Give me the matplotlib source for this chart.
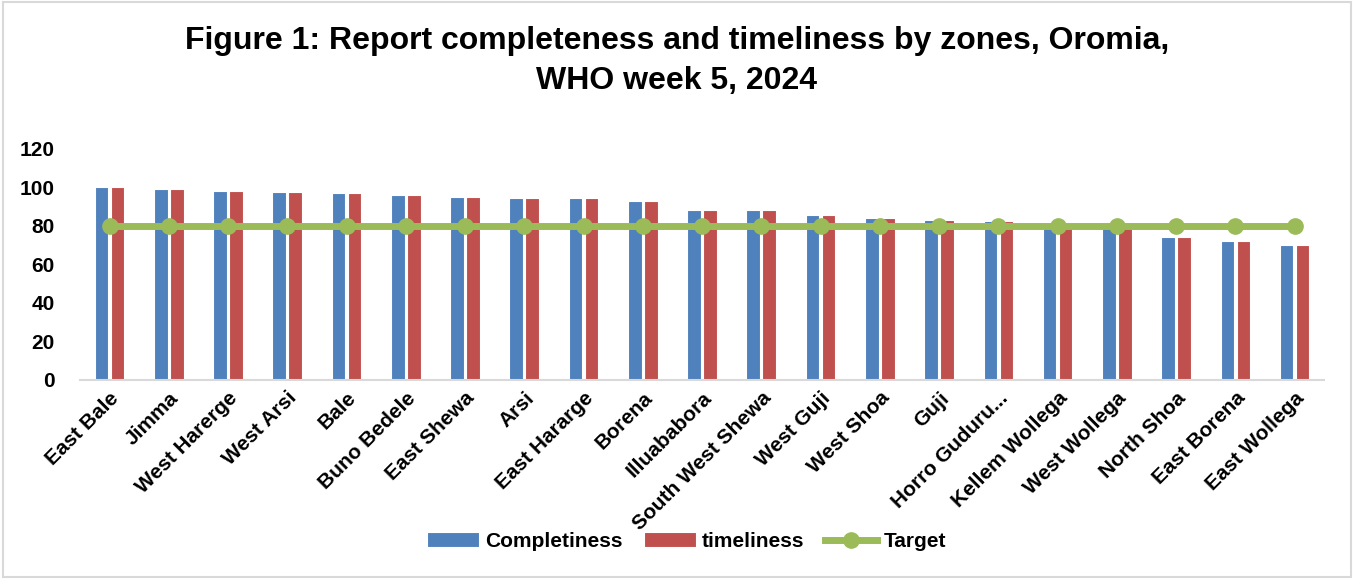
import numpy as np
import matplotlib.pyplot as plt
from matplotlib.patches import Rectangle

plt.rcParams['font.family'] = ['Liberation Sans', 'DejaVu Sans']
plt.rcParams['font.weight'] = 'bold'

zones = ['East Bale', 'Jimma', 'West Harerge', 'West Arsi', 'Bale', 'Buno Bedele',
         'East Shewa', 'Arsi', 'East Hararge', 'Borena', 'Illuababora',
         'South West Shewa', 'West Guji', 'West Shoa', 'Guji', 'Horro Guduru...',
         'Kellem Wollega', 'West Wollega', 'North Shoa', 'East Borena', 'East Wollega']
completeness = [100, 99, 98, 97.7, 97.1, 96.3, 95.1, 94.7, 94.7, 92.8, 88.3,
                88.3, 85.9, 84.0, 83.3, 82.6, 79.5, 79.2, 74.1, 72.4, 70.3]
timeliness = [100, 99, 98, 97.7, 97.1, 96.3, 95.1, 94.7, 94.7, 92.8, 88.3,
              88.3, 85.9, 84.0, 83.3, 82.6, 79.5, 79.2, 74.1, 72.4, 70.3]
target = [80] * len(zones)

blue = '#4F81BD'
red = '#C0504D'
green = '#9BBB59'

fig = plt.figure(figsize=(13.54, 5.79), dpi=100)
fig.patches.append(Rectangle((0.002, 0.003), 0.996, 0.994, transform=fig.transFigure,
                             fill=False, edgecolor='#D9D9D9', linewidth=1.5))
ax = fig.add_axes([0.059, 0.3437, 0.919, 0.399])

x = np.arange(len(zones))
w = 0.23
b1 = ax.bar(x - 0.135, completeness, w, color=blue, edgecolor='white', linewidth=0.8,
            label='Completiness', zorder=2)
b2 = ax.bar(x + 0.135, timeliness, w, color=red, edgecolor='white', linewidth=0.8,
            label='timeliness', zorder=2)
ln, = ax.plot(x, target, color=green, linewidth=5, marker='o', markersize=11,
              label='Target', zorder=3)

ax.set_xlim(-0.5, len(zones) - 0.5)
ax.set_ylim(0, 120)
ax.set_yticks(np.arange(0, 121, 20))
ax.set_xticks(x)
ax.set_xticklabels(zones, rotation=45, ha='right', rotation_mode='anchor',
                   fontsize=15, fontweight='bold')
ax.tick_params(axis='y', length=0, labelsize=15, pad=18)
ax.tick_params(axis='x', length=0, pad=6)
for s in ['top', 'right', 'left']:
    ax.spines[s].set_visible(False)
ax.spines['bottom'].set_color('#D9D9D9')
ax.spines['bottom'].set_linewidth(1.5)

fig.suptitle('Figure 1: Report completeness and timeliness by zones, Oromia,\nWHO week 5, 2024',
             y=0.955, fontsize=23, fontweight='bold', linespacing=1.45)

fig.legend(handles=[b1, b2, ln], loc='center', bbox_to_anchor=(0.507, 0.065), ncol=3,
           frameon=False, fontsize=15, handlelength=2.5, handleheight=0.7,
           columnspacing=1.0, handletextpad=0.3)

fig.savefig('out.png', dpi=100)
